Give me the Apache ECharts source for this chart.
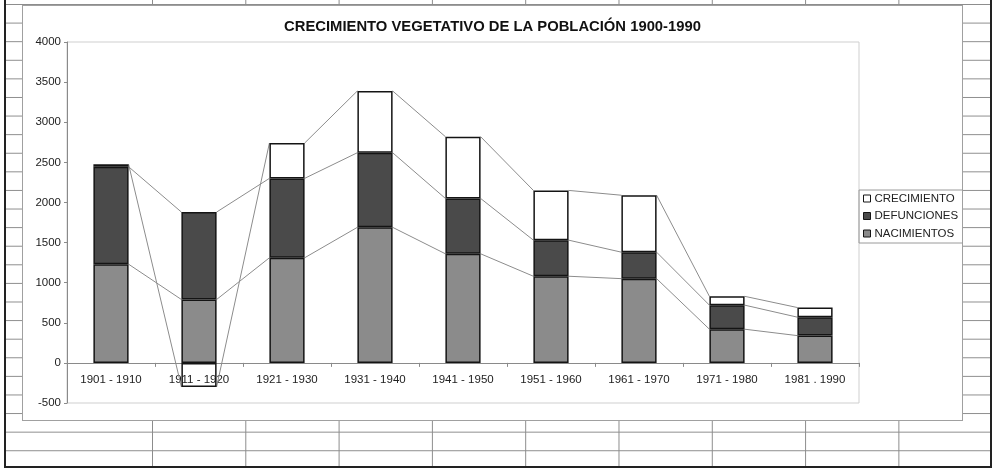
<!DOCTYPE html>
<html>
<head>
<meta charset="utf-8">
<script src="https://cdn.jsdelivr.net/npm/echarts@6/dist/echarts.min.js"></script>
<style>
  html, body { margin: 0; padding: 0; background: #fff; }
  #sheet {
    position: absolute; left: 4px; top: 0; width: 988px; height: 468px;
    box-sizing: border-box;
    border-left: 2px solid #222; border-right: 2px solid #222; border-bottom: 2px solid #222;
    background-color: #fff;
    background-origin: border-box;
    background-image: linear-gradient(to bottom, #8c8c8c 0, #8c8c8c 1px, transparent 1px);
    background-size: 100% 18.6px;
    background-position: 0 4px;
  }
  #cols {
    position: absolute; left: 152px; top: 0; width: 838px; height: 466px;
    background-image: linear-gradient(to right, #8c8c8c 0, #8c8c8c 1px, transparent 1px);
    background-size: 93.3px 100%;
    background-position: 0 0;
  }
  #frame {
    position: absolute; left: 22px; top: 5px; width: 941px; height: 416px;
    box-sizing: border-box; border: 1px solid #a0a0a0; background: #fff;
  }
  #chart { position: absolute; left: 22px; top: 5px; width: 941px; height: 416px; }
</style>
</head>
<body>
<div id="sheet"></div>
<div id="cols"></div>
<div id="frame"></div>
<div id="chart"></div>
<script>
const categories = ['1901 - 1910', '1911 - 1920', '1921 - 1930', '1931 - 1940', '1941 - 1950', '1951 - 1960', '1961 - 1970', '1971 - 1980', '1981 . 1990'];
const nacimientos = [1230, 790, 1310, 1690, 1360, 1080, 1050, 420, 340];
const defunciones = [1215, 1090, 990, 930, 690, 450, 330, 300, 230];
const crecimiento = [30, -300, 440, 770, 770, 620, 710, 110, 120];
const yTicks = { min: -500, max: 4000, interval: 500 };

const FONT = '"Liberation Sans", Arial, sans-serif';

// series-line endpoints (stack levels) per category
const levelNac = nacimientos.map(v => v);
const levelDef = nacimientos.map((v, i) => v + defunciones[i]);
const levelCre = nacimientos.map((v, i) => crecimiento[i] >= 0 ? v + defunciones[i] + crecimiento[i] : crecimiento[i]);
const seriesLines = [];
[levelNac, levelDef, levelCre].forEach(lv => {
  for (let i = 0; i < lv.length - 1; i++) seriesLines.push([i, lv[i], lv[i + 1]]);
});

const chart = echarts.init(document.getElementById('chart'), null, { renderer: 'canvas' });
chart.setOption({
  backgroundColor: 'transparent',
  animation: false,
  title: {
    text: 'CRECIMIENTO VEGETATIVO DE LA POBLACIÓN 1900-1990',
    left: 'center', top: 9,
    textStyle: { fontFamily: FONT, fontSize: 14.8, fontWeight: 'bold', color: '#111' }
  },
  legend: {
    data: ['CRECIMIENTO', 'DEFUNCIONES', 'NACIMIENTOS'],
    orient: 'vertical',
    left: 837, top: 185,
    padding: [2, 6, 3, 4],
    itemGap: 4.5,
    itemWidth: 7, itemHeight: 7,
    itemStyle: { borderWidth: 1 },
    borderColor: '#9a9a9a', borderWidth: 1,
    icon: 'rect',
    textStyle: { fontFamily: FONT, fontSize: 11.5, color: '#222', lineHeight: 13, padding: [0, 0, 0, -1] },
    selectedMode: false
  },
  grid: {
    left: 45, top: 37, width: 792, height: 361,
    outerBoundsMode: 'none', containLabel: false,
    show: true, borderColor: '#cfcfcf', borderWidth: 1, backgroundColor: 'transparent'
  },
  xAxis: {
    type: 'category',
    data: categories,
    axisLine: { onZero: true, lineStyle: { color: '#8a8a8a', width: 1 } },
    axisTick: { show: true, length: 4, lineStyle: { color: '#8a8a8a' } },
    axisLabel: { fontFamily: FONT, fontSize: 11.5, color: '#222', margin: -29 },
    splitLine: { show: false }
  },
  yAxis: {
    type: 'value',
    min: yTicks.min, max: yTicks.max, interval: yTicks.interval,
    axisLine: { show: true, lineStyle: { color: '#8a8a8a', width: 1 } },
    axisTick: { show: true, length: 3, lineStyle: { color: '#8a8a8a' } },
    axisLabel: { fontFamily: FONT, fontSize: 11.5, color: '#222', margin: 6, formatter: v => String(v) },
    splitLine: { show: false }
  },
  series: [
    {
      name: 'SERIES_LINES', type: 'custom', z: 1, silent: true,
      data: seriesLines,
      encode: { x: 0, y: [1, 2] },
      renderItem: function (params, api) {
        const i = api.value(0);
        const p0 = api.coord([i, api.value(1)]);
        const p1 = api.coord([i + 1, api.value(2)]);
        const half = api.size([1, 0])[0] * 0.4 / 2;
        return {
          type: 'line',
          shape: { x1: p0[0] + half, y1: p0[1], x2: p1[0] - half, y2: p1[1] },
          style: { stroke: '#8c8c8c', lineWidth: 1 }
        };
      }
    },
    {
      name: 'NACIMIENTOS', type: 'bar', stack: 'total', barWidth: '40%', z: 2,
      data: nacimientos,
      itemStyle: { color: '#8b8b8b', borderColor: '#141414', borderWidth: 1.5 }
    },
    {
      name: 'DEFUNCIONES', type: 'bar', stack: 'total', barWidth: '40%', z: 2,
      data: defunciones,
      itemStyle: { color: '#4a4a4a', borderColor: '#141414', borderWidth: 1.5 }
    },
    {
      name: 'CRECIMIENTO', type: 'bar', stack: 'total', barWidth: '40%', z: 2,
      data: crecimiento,
      itemStyle: { color: 'rgba(255,255,255,0)', borderColor: '#141414', borderWidth: 1.5 }
    }
  ]
});
</script>
</body>
</html>
